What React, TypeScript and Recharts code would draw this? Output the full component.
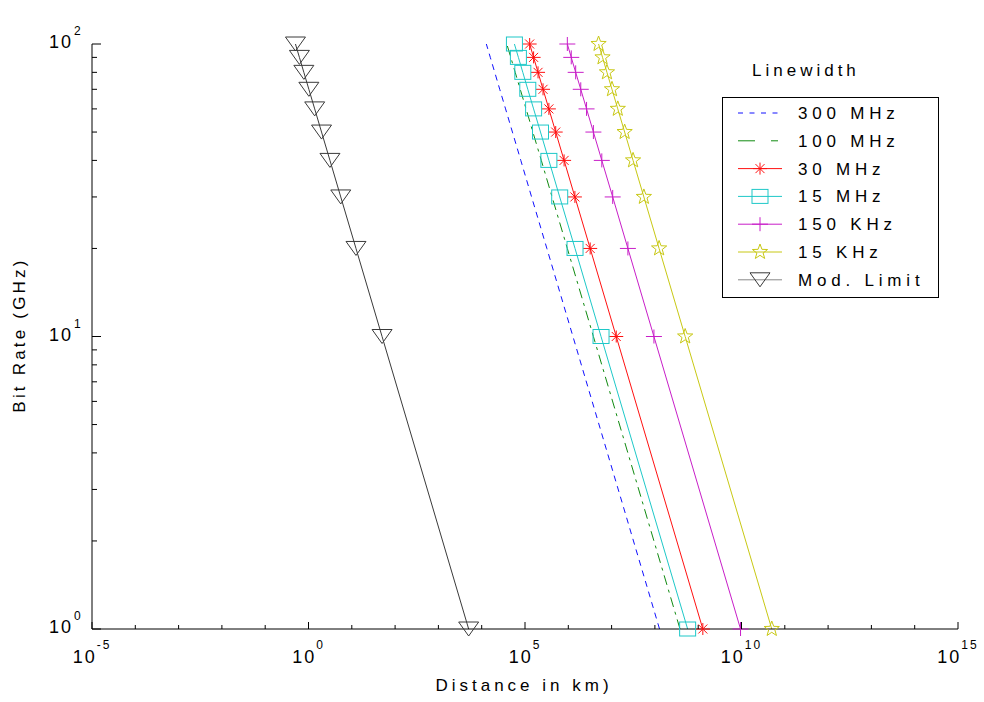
import React from 'react'
import { LineChart, Line, XAxis, YAxis, Legend } from 'recharts'

// bit rate (GHz) at which each distance was computed
const bitRates = [1, 10, 20, 30, 40, 50, 60, 70, 80, 90, 100]

// distance (km) per linewidth, same order as bitRates
const dist300MHz = [1.28e8, 1.28e6, 3.2e5, 1.42e5, 8.0e4, 5.12e4, 3.56e4, 2.61e4, 2.0e4, 1.58e4, 1.28e4]
const dist100MHz = [3.8e8, 3.8e6, 9.5e5, 4.22e5, 2.38e5, 1.52e5, 1.06e5, 7.76e4, 5.94e4, 4.69e4, 3.8e4]
const dist30MHz = [1.28e9, 1.28e7, 3.2e6, 1.42e6, 8.0e5, 5.12e5, 3.56e5, 2.61e5, 2.0e5, 1.58e5, 1.28e5]
const dist15MHz = [5.7e8, 5.7e6, 1.43e6, 6.33e5, 3.56e5, 2.28e5, 1.58e5, 1.16e5, 8.9e4, 7.04e4, 5.7e4]
const dist150KHz = [9.5e9, 9.5e7, 2.38e7, 1.06e7, 5.94e6, 3.8e6, 2.64e6, 1.94e6, 1.48e6, 1.17e6, 9.5e5]
const dist15KHz = [5.0e10, 5.0e8, 1.25e8, 5.56e7, 3.13e7, 2.0e7, 1.39e7, 1.02e7, 7.81e6, 6.17e6, 5.0e6]
const distModLimit = [5000, 50, 12.5, 5.56, 3.13, 2.0, 1.39, 1.02, 0.781, 0.617, 0.5]

const seriesNames = ['300 MHz', '100 MHz', '30 MHz', '15 MHz', '150 KHz', '15 KHz', 'Mod. Limit']

const xTicks = [1e-5, 1e-4, 1e-3, 1e-2, 1e-1, 1, 1e1, 1e2, 1e3, 1e4, 1e5, 1e6, 1e7, 1e8, 1e9, 1e10, 1e11, 1e12, 1e13, 1e14, 1e15]
const yTicks = [1, 2, 3, 4, 5, 6, 7, 8, 9, 10, 20, 30, 40, 50, 60, 70, 80, 90, 100]

const titleText = 'Bit Rate vs Distance for various values of Linewidths for F3 only'
const xLabelText = 'Distance in km)'
const yLabelText = 'Bit Rate (GHz)'
const legendTitle = 'Linewidth'

const FONT = '"Liberation Sans", Arial, Helvetica, sans-serif'

type MarkerKind = 'none' | 'asterisk' | 'square' | 'plus' | 'star' | 'triangle'

const series = [
  { name: seriesNames[0], dist: dist300MHz, color: '#1010ff', dash: '6 5', legendDash: '5 6.5', marker: 'none' as MarkerKind },
  { name: seriesNames[1], dist: dist100MHz, color: '#108a10', dash: '10 5 3 5', legendDash: '17 16 7 4', marker: 'none' as MarkerKind },
  { name: seriesNames[2], dist: dist30MHz, color: '#ff1010', dash: undefined, legendDash: undefined, marker: 'asterisk' as MarkerKind },
  { name: seriesNames[3], dist: dist15MHz, color: '#1ec8c8', dash: undefined, legendDash: undefined, marker: 'square' as MarkerKind },
  { name: seriesNames[4], dist: dist150KHz, color: '#c81ec8', dash: undefined, legendDash: undefined, marker: 'plus' as MarkerKind },
  { name: seriesNames[5], dist: dist15KHz, color: '#c8c814', dash: undefined, legendDash: undefined, marker: 'star' as MarkerKind },
  { name: seriesNames[6], dist: distModLimit, color: '#3a3a3a', dash: undefined, legendDash: undefined, marker: 'triangle' as MarkerKind },
]

const toPoints = (dist: number[]) => dist.map((x, i) => ({ x, y: bitRates[i] }))

function Marker({ kind, cx, cy, color }: { kind: MarkerKind; cx: number; cy: number; color: string }) {
  if (cx == null || cy == null) return null
  switch (kind) {
    case 'asterisk':
      return (
        <g stroke={color} strokeWidth={1}>
          <line x1={cx - 7} y1={cy} x2={cx + 7} y2={cy} />
          <line x1={cx} y1={cy - 6} x2={cx} y2={cy + 6} />
          <line x1={cx - 4.5} y1={cy - 4.5} x2={cx + 4.5} y2={cy + 4.5} />
          <line x1={cx - 4.5} y1={cy + 4.5} x2={cx + 4.5} y2={cy - 4.5} />
        </g>
      )
    case 'square':
      return <rect x={cx - 8} y={cy - 7} width={16} height={14} fill="none" stroke={color} strokeWidth={1} />
    case 'plus':
      return (
        <g stroke={color} strokeWidth={1}>
          <line x1={cx - 8} y1={cy} x2={cx + 8} y2={cy} />
          <line x1={cx} y1={cy - 7} x2={cx} y2={cy + 7} />
        </g>
      )
    case 'star': {
      const pts: string[] = []
      for (let k = 0; k < 10; k++) {
        const a = (-90 + k * 36) * Math.PI / 180
        const r = k % 2 === 0 ? 8 : 3.3
        pts.push(`${cx + r * Math.cos(a)},${cy + r * Math.sin(a)}`)
      }
      return <polygon points={pts.join(' ')} fill="none" stroke={color} strokeWidth={1} />
    }
    case 'triangle':
      return <polygon points={`${cx - 10},${cy - 7} ${cx + 10},${cy - 7} ${cx},${cy + 7}`} fill="none" stroke={color} strokeWidth={1} />
    default:
      return null
  }
}

const expOf = (v: number) => Math.round(Math.log10(v))

// ticks are drawn inward like the original figure box
const BottomTick = (props: any) => {
  const { x, y, payload } = props
  const e = expOf(payload.value)
  const major = e % 5 === 0
  return (
    <g>
      <line x1={x} y1={y} x2={x} y2={y - (major ? 7 : 4)} stroke="#000" />
      {major && (
        <text x={x} y={y + 34} textAnchor="middle" fontFamily={FONT} fontSize={18} fill="#000" style={{ letterSpacing: 2 }}>
          <tspan>10</tspan>
          <tspan dy={-14} fontSize={12}>{e}</tspan>
        </text>
      )}
    </g>
  )
}

const TopTick = (props: any) => {
  const { x, y, payload } = props
  const major = expOf(payload.value) % 5 === 0
  return <line x1={x} y1={y} x2={x} y2={y + (major ? 7 : 4)} stroke="#000" />
}

const LeftTick = (props: any) => {
  const { x, y, payload } = props
  const v = payload.value
  const major = v === 1 || v === 10 || v === 100
  return (
    <g>
      <line x1={x} y1={y} x2={x + (major ? 9 : 5)} y2={y} stroke="#000" />
      {major && (
        <g fontFamily={FONT} fill="#000">
          <text x={x - 19} y={y + 4} textAnchor="end" fontSize={18} style={{ letterSpacing: 2 }}>10</text>
          <text x={x - 18} y={y - 9} fontSize={12}>{expOf(v)}</text>
        </g>
      )}
    </g>
  )
}

const RightTick = (props: any) => {
  const { x, y, payload } = props
  const v = payload.value
  const major = v === 1 || v === 10 || v === 100
  return <line x1={x} y1={y} x2={x - (major ? 9 : 5)} y2={y} stroke="#000" />
}

const TitleLabel = () => (
  <text x={525} y={21} textAnchor="middle" fontFamily={FONT} fontSize={16} fill="#000" style={{ letterSpacing: 3.3 }}>
    {titleText}
  </text>
)

const XLabel = () => (
  <text x={524} y={691} textAnchor="middle" fontFamily={FONT} fontSize={17} fill="#000" style={{ letterSpacing: 4 }}>
    {xLabelText}
  </text>
)

const YLabel = () => (
  <text x={0} y={0} transform="translate(25,335) rotate(-90)" textAnchor="middle" fontFamily={FONT} fontSize={17} fill="#000" style={{ letterSpacing: 3.2 }}>
    {yLabelText}
  </text>
)

const LegendBox = () => (
  <svg width={260} height={260} style={{ display: 'block' }}>
    <text x={52} y={26} fontFamily={FONT} fontSize={17} fill="#000" style={{ letterSpacing: 4 }}>{legendTitle}</text>
    <rect x={22.5} y={47.5} width={216} height={200} fill="#fff" stroke="#000" />
    {series.map((s, i) => {
      const cy = 63 + i * 27.8
      return (
        <g key={s.name}>
          <line x1={38} x2={82} y1={cy} y2={cy} stroke={s.marker === 'triangle' ? '#888' : s.color} strokeDasharray={s.legendDash} />
          <Marker kind={s.marker} cx={60} cy={cy} color={s.color} />
          <text x={98} y={cy + 6} fontFamily={FONT} fontSize={17} fill="#000" style={{ letterSpacing: 4.8 }}>{s.name}</text>
        </g>
      )
    })}
  </svg>
)

export default function App() {
  return (
    <div style={{ position: 'absolute', left: 0, top: 0, width: 984, height: 702, background: '#fff' }}>
      <LineChart width={984} height={702} margin={{ top: 44, right: 26, bottom: 0, left: 0 }}>
        <XAxis
          dataKey="x"
          type="number"
          scale="log"
          domain={[1e-5, 1e15]}
          ticks={xTicks}
          interval={0}
          height={73}
          tickSize={0}
          tickMargin={0}
          tickLine={false}
          axisLine={{ stroke: '#000' }}
          tick={<BottomTick />}
          label={<XLabel />}
        />
        <XAxis
          xAxisId="top"
          orientation="top"
          dataKey="x"
          type="number"
          scale="log"
          domain={[1e-5, 1e15]}
          ticks={xTicks}
          interval={0}
          height={0}
          tickSize={0}
          tickMargin={0}
          tickLine={false}
          axisLine={{ stroke: '#000' }}
          tick={<TopTick />}
          label={<TitleLabel />}
        />
        <YAxis
          type="number"
          scale="log"
          domain={[1, 100]}
          ticks={yTicks}
          interval={0}
          width={92}
          tickSize={0}
          tickMargin={0}
          tickLine={false}
          axisLine={{ stroke: '#000' }}
          tick={<LeftTick />}
          label={<YLabel />}
        />
        <YAxis
          yAxisId="right"
          orientation="right"
          type="number"
          scale="log"
          domain={[1, 100]}
          ticks={yTicks}
          interval={0}
          width={0}
          tickSize={0}
          tickMargin={0}
          tickLine={false}
          axisLine={{ stroke: '#000' }}
          tick={<RightTick />}
        />
        <Legend
          layout="vertical"
          align="center"
          verticalAlign="middle"
          content={<LegendBox />}
          wrapperStyle={{ left: 700, top: 50, width: 260, height: 260 }}
        />
        {series.map((s) => (
          <Line
            key={s.name}
            name={s.name}
            data={toPoints(s.dist)}
            dataKey="y"
            type="linear"
            stroke={s.color}
            strokeWidth={1}
            strokeDasharray={s.dash}
            isAnimationActive={false}
            dot={s.marker === 'none' ? false : (p: any) => (
              <Marker key={`${s.name}-${p.index}`} kind={s.marker} cx={p.cx} cy={p.cy} color={s.color} />
            )}
            activeDot={false}
          />
        ))}
      </LineChart>
    </div>
  )
}
